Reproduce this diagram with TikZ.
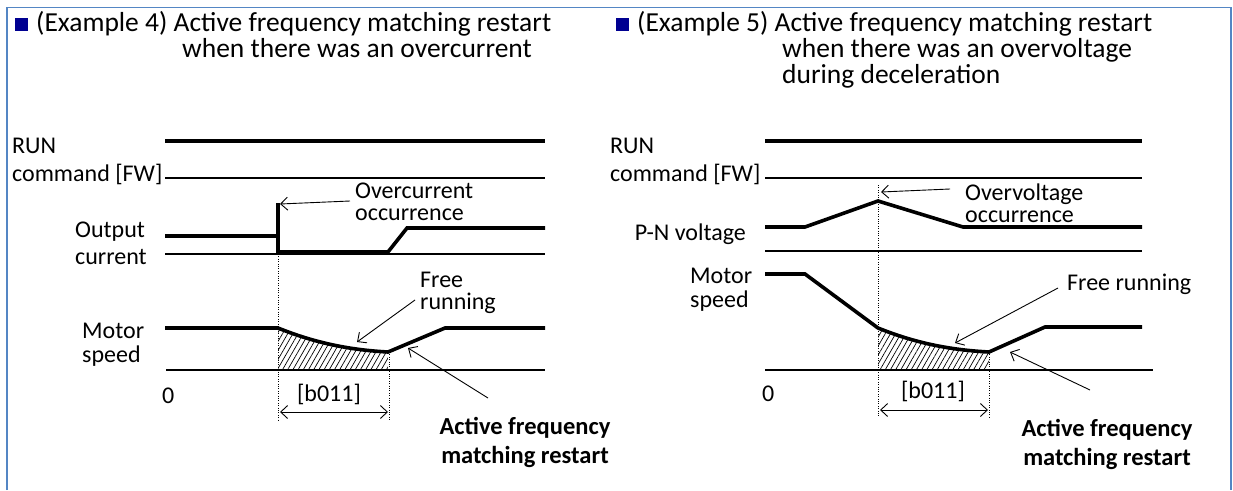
\documentclass[tikz,border=0pt]{standalone}
\usepackage{fontspec}
\setmainfont{Carlito}
\usetikzlibrary{arrows.meta,patterns.meta}
\definecolor{framecol}{RGB}{84,134,196}
\definecolor{sqcol}{RGB}{0,0,145}
\begin{document}
\begin{tikzpicture}[x=1pt,y=-1pt,
  wave/.style={line width=3.6pt},
  axisline/.style={line width=1.2pt},
  guide/.style={line width=0.8pt, dash pattern=on 1pt off 1.4pt},
  callout/.style={line width=0.9pt, -{Straight Barb[length=7pt,width=13pt]}},
  spanarrow/.style={line width=0.9pt, {Straight Barb[length=7pt,width=13pt]}-{Straight Barb[length=7pt,width=13pt]}},
  lbl/.style={inner sep=0pt, anchor=base west, font=\fontsize{24}{28}\selectfont},
  lble/.style={inner sep=0pt, anchor=base east, font=\fontsize{24}{28}\selectfont},
  ttl/.style={inner sep=0pt, anchor=base west, font=\fontsize{27.5}{26}\selectfont},
  boldlbl/.style={inner sep=0pt, align=center, font=\bfseries\fontsize{24.5}{29}\selectfont},
  hatch/.style={pattern={Lines[angle=60,distance=4.5pt,line width=0.7pt]}},
  framestyle/.style={draw=framecol, line width=1.6pt}
]
\useasboundingbox (0,0) rectangle (1233,490);
% frame
\draw[framestyle] (7,490) -- (7,7.5) -- (1231,7.5) -- (1231,490);

% ================= LEFT PANEL =================
\node[ttl] (t4a) at (15,31) {\textcolor{sqcol}{\rule{13pt}{13pt}}\hspace{8pt}(Example 4) Active frequency matching restart};
\node[ttl] (t4b) at (182,57) {when there was an overcurrent};

\node[lbl] (run4) at (12,153) {RUN};
\node[lbl] (cmd4) at (12,181) {command [FW]};
\node[lbl] (out4) at (75,237) {Output};
\node[lbl] (cur4) at (75,264) {current};
\node[lbl] (mot4) at (82,338) {Motor};
\node[lbl] (spd4) at (82,362) {speed};
\node[lbl] (zero4) at (162,403) {0};
\node[lbl] (oc4a) at (355,198) {Overcurrent};
\node[lbl] (oc4b) at (355,220) {occurrence};
\node[lbl] (fr4a) at (420,287) {Free};
\node[lbl] (fr4b) at (420,309) {running};
\node[inner sep=0pt, anchor=base, font=\fontsize{24}{28}\selectfont] (b4) at (329,401) {[b011]};
\node[boldlbl] (af4) at (525,442) {Active frequency\\matching restart};

% run command
\draw[wave] (165,141) -- (545,141);
\draw[axisline] (165,178) -- (545,178);
% output current
\draw[axisline] (165,254) -- (545,254);
\draw[wave] (165,236) -- (278,236);
\draw[wave] (278,203) -- (278,252) -- (388,252) -- (407,228) -- (545,228);
% motor speed
\draw[axisline] (166,370) -- (545,370);
\fill[hatch] (278,328) .. controls (315,343) and (350,350) .. (388,352) -- (388,370) -- (278,370) -- cycle;
\draw[wave] (165,328) -- (278,328) .. controls (315,343) and (350,350) .. (388,352) -- (445,328) -- (545,328);
% guides
\coordinate (g4a1) at (278,254);
\coordinate (g4a2) at (278,420);
\coordinate (g4b1) at (389,352);
\coordinate (g4b2) at (389,420);
\draw[guide] (g4a1) -- (g4a2);
\draw[guide] (g4b1) -- (g4b2);
% callouts
\coordinate (oc4s) at (350,201);
\coordinate (oc4t) at (280,204);
\draw[callout] (oc4s) -- (oc4t);
\coordinate (fr4s) at (415,300);
\coordinate (fr4t) at (357,342);
\draw[callout] (fr4s) -- (fr4t);
\coordinate (af4s) at (488,398);
\coordinate (af4t) at (408,348);
\draw[callout] (af4s) -- (af4t);
\coordinate (sp4l) at (280,412);
\coordinate (sp4r) at (388,412);
\draw[spanarrow] (sp4l) -- (sp4r);

% ================= RIGHT PANEL =================
\node[ttl] (t5a) at (616,31) {\textcolor{sqcol}{\rule{13pt}{13pt}}\hspace{8pt}(Example 5) Active frequency matching restart};
\node[ttl] (t5b) at (782,57) {when there was an overvoltage};
\node[ttl] (t5c) at (782,83) {during deceleration};

\node[lbl] (run5) at (610,153) {RUN};
\node[lbl] (cmd5) at (610,181) {command [FW]};
\node[lble] (pn5) at (746,240) {P-N voltage};
\node[lbl] (mot5) at (690,283) {Motor};
\node[lbl] (spd5) at (690,307) {speed};
\node[lbl] (zero5) at (762,401) {0};
\node[lbl] (ov5a) at (965,200) {Overvoltage};
\node[lbl] (ov5b) at (965,222) {occurrence};
\node[lbl] (fr5) at (1067,290) {Free running};
\node[inner sep=0pt, anchor=base, font=\fontsize{24}{28}\selectfont] (b5) at (933,398) {[b011]};
\node[boldlbl] (af5) at (1107,444) {Active frequency\\matching restart};

% run command
\draw[wave] (765,141) -- (1142,141);
\draw[axisline] (765,178) -- (1142,178);
% P-N voltage
\draw[wave] (765,227) -- (805,227) -- (878,201) -- (963,227) -- (1142,227);
\draw[axisline] (765,251) -- (1142,251);
% motor speed
\draw[axisline] (765,370) -- (1153,370);
\fill[hatch] (878,328) .. controls (915,343) and (950,350) .. (989,352) -- (989,370) -- (878,370) -- cycle;
\draw[wave] (765,274) -- (805,274) -- (878,328) .. controls (915,343) and (950,350) .. (989,352) -- (1045,327) -- (1142,327);
% guides
\coordinate (g5a1) at (878,185);
\coordinate (g5a2) at (878,417);
\coordinate (g5b1) at (989,352);
\coordinate (g5b2) at (989,417);
\draw[guide] (g5a1) -- (g5a2);
\draw[guide] (g5b1) -- (g5b2);
% callouts
\coordinate (ov5s) at (950,189);
\coordinate (ov5t) at (881,192);
\draw[callout] (ov5s) -- (ov5t);
\coordinate (fr5s) at (1058,288);
\coordinate (fr5t) at (955,343);
\draw[callout] (fr5s) -- (fr5t);
\coordinate (af5s) at (1090,390);
\coordinate (af5t) at (1010,352);
\draw[callout] (af5s) -- (af5t);
\coordinate (sp5l) at (880,410);
\coordinate (sp5r) at (988,410);
\draw[spanarrow] (sp5l) -- (sp5r);
\end{tikzpicture}
\end{document}
